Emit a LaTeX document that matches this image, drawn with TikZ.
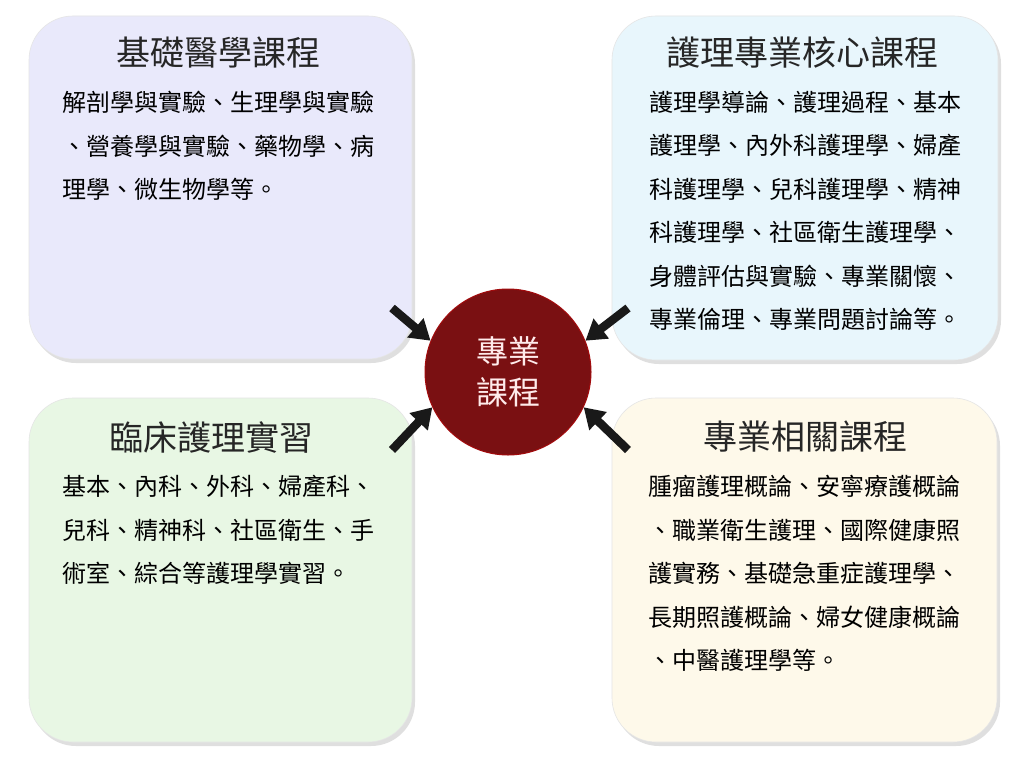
\documentclass[tikz,border=0pt]{standalone}
\usepackage{fontspec}
\setmainfont{Noto Sans CJK TC}
\usetikzlibrary{shadows,arrows.meta}
\definecolor{boxA}{HTML}{E9E9FB}
\definecolor{boxB}{HTML}{E8F6FC}
\definecolor{boxC}{HTML}{E8F7E4}
\definecolor{boxD}{HTML}{FEF9EA}
\definecolor{hub}{HTML}{7A1012}
\tikzset{
  panel/.style={draw=gray!20, line width=0.6pt, rounded corners=44pt,
    drop shadow={shadow xshift=3pt, shadow yshift=-4pt, opacity=0.35, fill=gray!70}},
  ttl/.style={font=\fontsize{34}{40}\selectfont, text=black!85, inner sep=0pt},
  body/.style={font=\fontsize{24}{43.5}\selectfont, text=black, align=left, inner sep=0pt, anchor=north west},
  arr/.style={line width=8.5pt, -{Triangle[length=20pt,width=24pt]}, black!90}
}
\begin{document}
\begin{tikzpicture}[x=1pt,y=-1pt]
\useasboundingbox (0,0) rectangle (1024,768);
\fill[white] (0,0) rectangle (1024,768);
% panels
\path[panel, fill=boxA] (29,16) rectangle (412,359);
\path[panel, fill=boxB] (612,16) rectangle (998,360);
\path[panel, fill=boxC] (29,398) rectangle (412,742);
\path[panel, fill=boxD] (612,398) rectangle (997,742);
% titles
\node[ttl] (t1) at (218,53) {基礎醫學課程};
\node[ttl] (t2) at (802,53) {護理專業核心課程};
\node[ttl] (t3) at (211,437) {臨床護理實習};
\node[ttl] (t4) at (805,437) {專業相關課程};
% bodies
\node[body] (b1) at (62,91) {解剖學與實驗、生理學與實驗\\、營養學與實驗、藥物學、病\\理學、微生物學等。};
\node[body] (b2) at (649,91) {護理學導論、護理過程、基本\\護理學、內外科護理學、婦產\\科護理學、兒科護理學、精神\\科護理學、社區衛生護理學、\\身體評估與實驗、專業關懷、\\專業倫理、專業問題討論等。};
\node[body] (b3) at (62,475) {基本、內科、外科、婦產科、\\兒科、精神科、社區衛生、手\\術室、綜合等護理學實習。};
\node[body] (b4) at (648,475) {腫瘤護理概論、安寧療護概論\\、職業衛生護理、國際健康照\\護實務、基礎急重症護理學、\\長期照護概論、婦女健康概論\\、中醫護理學等。};
% hub
\node[circle, minimum size=166pt, fill=hub, draw=red!30!hub, line width=1pt, inner sep=0pt,
      text=white!92!red, align=center, font=\fontsize{32}{41}\selectfont] (c) at (508,372) {專業\\課程};
% arrows
\coordinate (a1) at (392,308);
\coordinate (a2) at (628,308);
\coordinate (a3) at (392,450);
\coordinate (a4) at (628,450);
\draw[arr] (a1) -- (c.158);
\draw[arr] (a2) -- (c.22);
\draw[arr] (a3) -- (c.205);
\draw[arr] (a4) -- (c.335);
\end{tikzpicture}
\end{document}
